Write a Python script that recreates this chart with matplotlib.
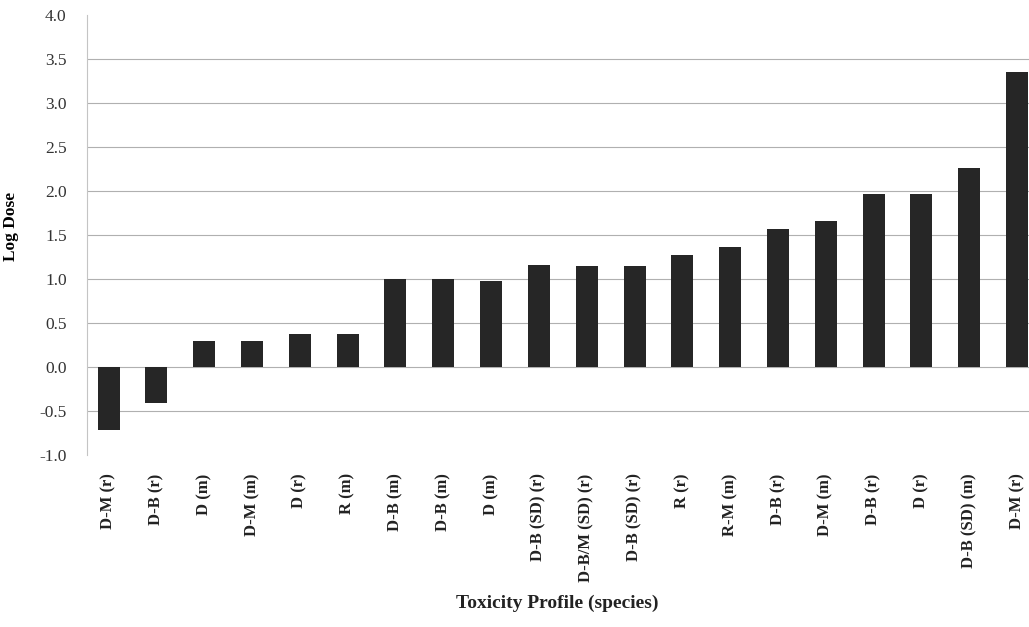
import matplotlib.pyplot as plt

# Toxicity profiles (species) and their log doses
profiles = ['D-M (r)', 'D-B (r)', 'D (m)', 'D-M (m)', 'D (r)', 'R (m)',
            'D-B (m)', 'D-B (m)', 'D (m)', 'D-B (SD) (r)', 'D-B/M (SD) (r)',
            'D-B (SD) (r)', 'R (r)', 'R-M (m)', 'D-B (r)', 'D-M (m)',
            'D-B (r)', 'D (r)', 'D-B (SD) (m)', 'D-M (r)']
log_dose = [-0.71, -0.41, 0.30, 0.30, 0.38, 0.38,
            1.00, 1.00, 0.98, 1.16, 1.15,
            1.15, 1.27, 1.37, 1.57, 1.66,
            1.97, 1.97, 2.26, 3.35]

plt.rcParams['font.family'] = ['Liberation Serif', 'DejaVu Serif']

fig = plt.figure(figsize=(10.29, 6.27), dpi=100)
ax = fig.add_axes([0.085, 0.274, 0.915, 0.702])

x = list(range(len(profiles)))
ax.bar(x, log_dose, width=0.46, color='#262626', zorder=3)

ax.set_ylim(-1.0, 4.0)
ax.set_xlim(-0.44, 19.25)
ax.set_yticks([-1.0, -0.5, 0.0, 0.5, 1.0, 1.5, 2.0, 2.5, 3.0, 3.5, 4.0])
ax.set_yticklabels(['-1.0', '-0.5', '0.0', '0.5', '1.0', '1.5', '2.0',
                    '2.5', '3.0', '3.5', '4.0'], fontsize=12.5, color='#333333')
for level in [-0.5, 0.0, 0.5, 1.0, 1.5, 2.0, 2.5, 3.0, 3.5]:
    ax.axhline(level, color='#b0b0b0', linewidth=0.8, zorder=1)

ax.set_xticks(x)
ax.set_xticklabels(profiles, rotation=90, fontsize=12, fontweight='bold',
                   color='#222222')
ax.tick_params(axis='x', length=0, pad=13)
ax.tick_params(axis='y', length=0, pad=15)

for side in ['top', 'right', 'bottom']:
    ax.spines[side].set_visible(False)
ax.spines['left'].set_color('#c4c4c4')
ax.spines['left'].set_linewidth(0.8)

ax.set_ylabel('Log Dose', fontsize=12.5, fontweight='bold')
ax.yaxis.set_label_coords(-0.073, 0.52)
fig.text(0.542, 0.03, 'Toxicity Profile (species)', ha='center',
         fontsize=14, fontweight='bold', color='#222222')

fig.savefig('out.png', dpi=100, facecolor='white')
